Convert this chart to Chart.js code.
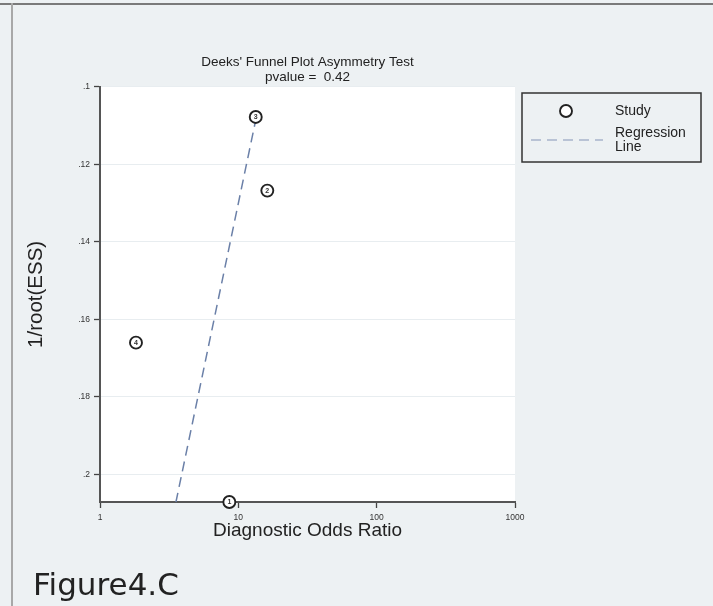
<!DOCTYPE html>
<html>
<head>
<meta charset="utf-8">
<script src="https://cdn.jsdelivr.net/npm/chart.js@4.4.1/dist/chart.umd.min.js"></script>
<style>
  html, body { margin: 0; padding: 0; background: #edf1f3; width: 713px; height: 606px; overflow: hidden; }
  #wrap { position: relative; width: 713px; height: 606px; }
  #topline { position: absolute; left: 0; top: 3px; width: 713px; height: 2px; background: #7a7a7a; }
  #leftline { position: absolute; left: 11px; top: 3px; width: 2px; height: 603px; background: #a8a8a8; }
  #chart { position: absolute; left: 0; top: 0; }
  #figlabel { position: absolute; left: 33px; top: 569px; font: 31px "DejaVu Sans", sans-serif; line-height: 1; color: #222; }
</style>
</head>
<body>
<div id="wrap">
  <div id="topline"></div>
  <div id="leftline"></div>
  <canvas id="chart" width="713" height="606"></canvas>
  <div id="figlabel">Figure4.C</div>
</div>
<script>
// Study points: diagnostic odds ratio vs 1/root(ESS)
var studyIds = ["1", "2", "3", "4"];
var studyDor = [8.61, 16.2, 13.36, 1.82];
var studyInvEss = [0.2071, 0.1268, 0.1078, 0.166];

// Regression line end points
var regDor = [13.5, 3.54];
var regInvEss = [0.1078, 0.2071];

var xTicks = [1, 10, 100, 1000];
var yTicks = [0.1, 0.12, 0.14, 0.16, 0.18, 0.2];

var titleLines = ["Deeks' Funnel Plot Asymmetry Test", "pvalue =  0.42"];

var FONT = "'Liberation Sans', Arial, sans-serif";

// white plot area
var plotBg = {
    id: "plotBg",
    beforeDraw: function (chart) {
        var a = chart.chartArea, ctx = chart.ctx;
        ctx.save();
        ctx.fillStyle = "#ffffff";
        ctx.fillRect(a.left, a.top, a.right - a.left, a.bottom - a.top);
        ctx.restore();
    }
};

// study numbers inside the circles
var pointNumbers = {
    id: "pointNumbers",
    afterDatasetsDraw: function (chart) {
        var ctx = chart.ctx;
        var meta = chart.getDatasetMeta(0);
        ctx.save();
        ctx.font = "bold 7px " + FONT;
        ctx.fillStyle = "#333";
        ctx.textAlign = "center";
        ctx.textBaseline = "middle";
        meta.data.forEach(function (el, i) {
            ctx.fillText(studyIds[i], el.x, el.y + 0.5);
        });
        ctx.restore();
    }
};

// boxed legend to the right
var boxLegend = {
    id: "boxLegend",
    afterDraw: function (chart) {
        var ctx = chart.ctx;
        var ds = chart.data.datasets;
        ctx.save();
        ctx.strokeStyle = "#333";
        ctx.lineWidth = 1.5;
        ctx.strokeRect(522, 93, 179, 69);

        ctx.beginPath();
        ctx.arc(566, 111, 6, 0, Math.PI * 2);
        ctx.fillStyle = "#fff";
        ctx.fill();
        ctx.strokeStyle = "#222";
        ctx.lineWidth = 1.9;
        ctx.stroke();

        ctx.beginPath();
        ctx.setLineDash([10, 6]);
        ctx.strokeStyle = "#a8b4cc";
        ctx.lineWidth = 1.6;
        ctx.moveTo(531, 140);
        ctx.lineTo(603, 140);
        ctx.stroke();
        ctx.setLineDash([]);

        ctx.font = "14px " + FONT;
        ctx.fillStyle = "#222";
        ctx.textAlign = "left";
        ctx.textBaseline = "middle";
        ctx.fillText(ds[0].label, 615, 111);
        var parts = ds[1].label.split(" ");
        ctx.fillText(parts[0], 615, 133);
        ctx.fillText(parts[1], 615, 147);
        ctx.restore();
    }
};

var ctx = document.getElementById("chart").getContext("2d");
var myChart = new Chart(ctx, {
    type: "scatter",
    data: {
        datasets: [
            {
                label: "Study",
                data: studyDor.map(function (v, i) { return { x: v, y: studyInvEss[i] }; }),
                pointRadius: 6,
                pointBorderWidth: 1.9,
                borderColor: "#222",
                backgroundColor: "#ffffff",
                clip: false
            },
            {
                label: "Regression Line",
                data: regDor.map(function (v, i) { return { x: v, y: regInvEss[i] }; }),
                showLine: true,
                borderColor: "#6b80a8",
                borderWidth: 1.5,
                borderDash: [10, 6],
                pointRadius: 0,
                clip: false
            }
        ]
    },
    options: {
        responsive: false,
        animation: false,
        layout: {
            padding: { left: 24, right: 198, top: 0, bottom: 64 }
        },
        plugins: {
            legend: { display: false },
            tooltip: { enabled: false },
            title: {
                display: true,
                fullSize: false,
                text: titleLines,
                color: "#222",
                font: { family: FONT, size: 13.5, weight: "normal", lineHeight: 1.1 },
                padding: { top: 55, bottom: 2 }
            }
        },
        scales: {
            x: {
                type: "logarithmic",
                min: 1,
                max: 1000,
                afterBuildTicks: function (scale) {
                    scale.ticks = xTicks.map(function (v) { return { value: v }; });
                },
                afterFit: function (scale) { scale.height = 40; },
                ticks: {
                    callback: function (v) { return String(v); },
                    color: "#333",
                    font: { family: FONT, size: 8.5 },
                    padding: 5,
                    maxRotation: 0
                },
                grid: { drawOnChartArea: false, tickLength: 6, tickColor: "#444", tickWidth: 1.3 },
                border: { color: "#555", width: 2 },
                title: {
                    display: true,
                    text: "Diagnostic Odds Ratio",
                    color: "#222",
                    font: { family: FONT, size: 19 },
                    padding: 0
                }
            },
            y: {
                type: "linear",
                reverse: true,
                min: 0.1,
                max: 0.2071,
                afterBuildTicks: function (scale) {
                    scale.ticks = yTicks.map(function (v) { return { value: v }; });
                },
                afterFit: function (scale) { scale.width = 76; },
                ticks: {
                    callback: function (v) { return String(+v.toFixed(2)).replace(/^0/, ""); },
                    color: "#333",
                    font: { family: FONT, size: 8.5 },
                    padding: 4
                },
                grid: { color: "#e8edf0", lineWidth: 1, tickLength: 6, tickColor: "#444", tickWidth: 1.3 },
                border: { color: "#555", width: 2 },
                title: {
                    display: true,
                    text: "1/root(ESS)",
                    color: "#222",
                    font: { family: FONT, size: 20.5 },
                    padding: 0
                }
            }
        }
    },
    plugins: [plotBg, pointNumbers, boxLegend]
});
</script>
</body>
</html>
